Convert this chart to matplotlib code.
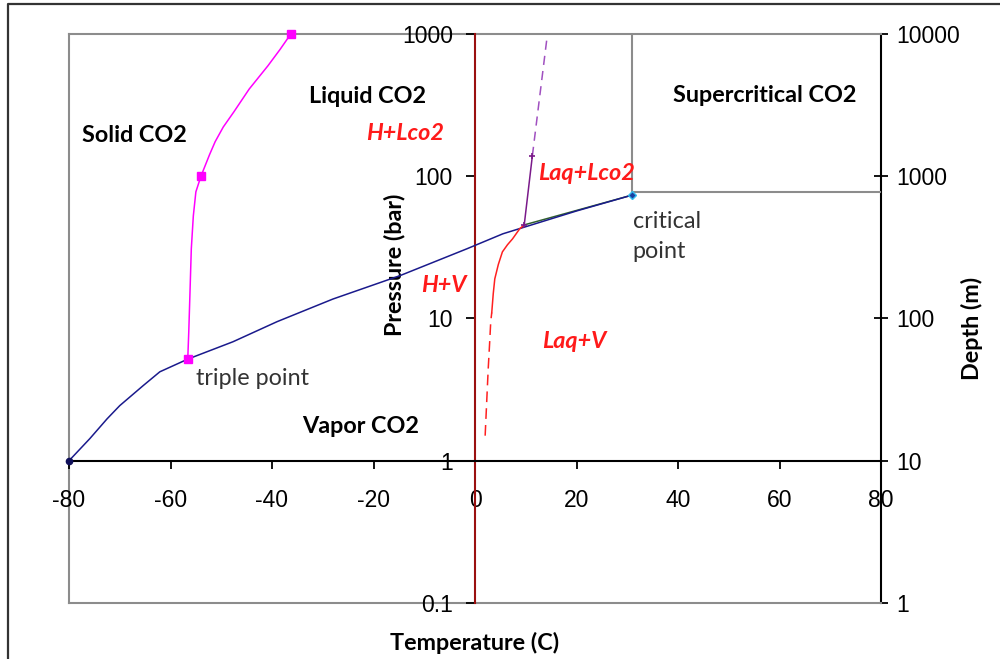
import matplotlib
matplotlib.use("Agg")
import matplotlib.pyplot as plt
from matplotlib.lines import Line2D
from matplotlib.ticker import FixedLocator, FixedFormatter, NullLocator

plt.rcParams["axes.unicode_minus"] = False

# CO2 phase boundaries
T_vap = [-80, -75.9, -72.5, -70, -65.4, -62.1, -56.6, -47.7, -39, -28, -14.8, -1.6, 5.5, 20, 31]
P_vap = [1, 1.43, 1.97, 2.44, 3.37, 4.22, 5.18, 6.86, 9.5, 13.7, 20, 30.9, 39.4, 57, 73.8]

T_melt = [-56.6, -56.4, -56.2, -55.9, -55.5, -55.0, -54.0, -53.2, -52.3, -51.2, -49.6, -47.5, -44.5, -40.8, -38.4, -36.3]
P_melt = [5.18, 8.07, 13.7, 30.9, 52.7, 77.7, 100, 118, 142, 175, 222, 284, 410, 598, 780, 1000]

# hydrate curves
T_hyd_dash = [2.0, 2.6, 2.9, 3.1, 3.3]
P_hyd_dash = [1.5, 4.4, 6.9, 9.5, 11]
T_hyd = [3.3, 3.6, 3.9, 4.6, 5.4, 6.4, 7.4, 8.8, 9.7]
P_hyd = [11, 15, 19, 24, 29.4, 33, 36.3, 42.7, 45.5]

T_hlc = [9.7, 11.3]
P_hlc = [45.5, 139]
T_hlc_dash = [11.3, 14.2]
P_hlc_dash = [139, 950]

T_q_crit = [9.7, 31]
P_q_crit = [45.5, 73.8]

# supercritical box
T_box = [31, 31, 80]
P_box = [1000, 77, 77]

x_ticks = [-80, -60, -40, -20, 0, 20, 40, 60, 80]
p_ticks = [0.1, 1, 10, 100, 1000]
p_labels = ["0.1", "1", "10", "100", "1000"]
d_ticks = [1, 10, 100, 1000, 10000]
d_labels = ["1", "10", "100", "1000", "10000"]

tick_font = "Liberation Sans"
txt_font = "Lato"
fs = 16.8
tfs = 16.5

fig = plt.figure(figsize=(10, 6.59), dpi=100)
ax = fig.add_axes([0.069, 0.085, 0.812, 0.8634])
ax2 = ax.twinx()

ax.set_xlim(-80, 80)
ax.set_yscale("log")
ax.set_ylim(0.1, 1000)
ax2.set_yscale("log")
ax2.set_ylim(1, 10000)

# curves
ax.plot(T_vap, P_vap, color="#1a1a8c", lw=1.1, zorder=4)
ax.plot([T_vap[0]], [P_vap[0]], marker="o", ms=4.5, color="#10105a", zorder=6, clip_on=False)
ax.plot([T_vap[-1]], [P_vap[-1]], marker="D", ms=4, color="#1a3fa0", mec="#33bbee", zorder=6)
ax.plot(T_melt, P_melt, color="#ff00ff", lw=1.1, marker="s", ms=5.5,
        markevery=[0, 6, 15], zorder=5, clip_on=False)
ax.plot(T_hyd_dash, P_hyd_dash, color="#ff2020", lw=1.1, ls=(0, (7, 4)), zorder=4)
ax.plot(T_hyd, P_hyd, color="#ff2020", lw=1.1, zorder=4)
ax.plot(T_hlc, P_hlc, color="#7a1a8a", lw=1.1, marker="+", ms=5, mew=1.2, zorder=5)
ax.plot(T_hlc_dash, P_hlc_dash, color="#a050c0", lw=1.1, ls=(0, (6, 4)), zorder=4)
ax.plot(T_q_crit, P_q_crit, color="#2f5f2f", lw=1.1, zorder=3)
ax.plot(T_box, P_box, color="#8c8c8c", lw=1.5, zorder=2)

# spines for the main axes: x-axis at 1 bar, pressure axis at 0 C
for s in ["top", "right"]:
    ax.spines[s].set_visible(False)
ax.spines["bottom"].set_position(("data", 1))
ax.spines["bottom"].set_color("black")
ax.spines["bottom"].set_linewidth(1.5)
ax.spines["left"].set_position(("data", 0))
ax.spines["left"].set_color("#9a1010")
ax.spines["left"].set_linewidth(1.5)

ax.xaxis.set_major_locator(FixedLocator(x_ticks))
ax.yaxis.set_major_locator(FixedLocator(p_ticks))
ax.yaxis.set_major_formatter(FixedFormatter(p_labels))
ax.yaxis.set_minor_locator(NullLocator())
ax.tick_params(axis="x", direction="out", length=5.8, width=1.3, pad=14.5, color="black",
               labelsize=tfs, labelfontfamily=tick_font)
ax.tick_params(axis="y", direction="out", length=6.5, width=1.3, pad=9.4, color="black",
               labelsize=tfs, labelfontfamily=tick_font)

# twin axes gives the grey frame and the depth axis
for s in ["left", "top", "bottom"]:
    ax2.spines[s].set_color("#8c8c8c")
    ax2.spines[s].set_linewidth(1.5)
ax2.spines["right"].set_color("black")
ax2.spines["right"].set_linewidth(1.5)
ax2.yaxis.set_major_locator(FixedLocator(d_ticks))
ax2.yaxis.set_major_formatter(FixedFormatter(d_labels))
ax2.yaxis.set_minor_locator(NullLocator())
ax2.tick_params(axis="y", direction="inout", length=10, width=1.3, pad=5.8, color="black",
                labelsize=tfs, labelfontfamily=tick_font)

ax.set_zorder(ax2.get_zorder() + 1)
ax.patch.set_visible(False)

ax.set_xlabel("Temperature (C)", fontfamily=txt_font, fontweight="bold", fontsize=fs)
ax.xaxis.set_label_coords(0.5, -0.05)
ax.set_ylabel("Pressure (bar)", fontfamily=txt_font, fontweight="bold", fontsize=fs)
ax.yaxis.set_label_coords(0.414, 0.594)
ax2.set_ylabel("Depth (m)", fontfamily=txt_font, fontweight="bold", fontsize=fs)
ax2.yaxis.set_label_coords(1.098, 0.483)

# region labels
bold = dict(fontfamily=txt_font, fontweight="bold", fontsize=fs, ha="center", va="center")
red = dict(fontfamily=txt_font, fontweight="bold", fontstyle="italic", fontsize=fs,
           color="#ff1a1a", ha="center", va="center")
plain = dict(fontfamily=txt_font, fontsize=fs, color="#333333", va="center")

ax.text(-67.2, 192, "Solid CO2", **bold)
ax.text(-21.1, 361, "Liquid CO2", **bold)
ax.text(57.1, 367, "Supercritical CO2", **bold)
ax.text(-22.5, 1.73, "Vapor CO2", **bold)
ax.text(-13.8, 199, "H+Lco2", **red)
ax.text(-6.1, 17, "H+V", **red)
ax.text(21.9, 104, "Laq+Lco2", **red)
ax.text(19.5, 6.86, "Laq+V", **red)
ax.text(-43.9, 3.77, "triple point", ha="center", **plain)
ax.text(31.1, 37.8, "critical\npoint", ha="left", linespacing=1.55, **plain)

# outer border of the picture
fig.add_artist(Line2D([0.008, 0.008, 1.05], [-0.05, 1 - 4 / 659, 1 - 4 / 659],
                      transform=fig.transFigure, color="#333333", lw=1.6))

fig.savefig("out.png", dpi=100)
